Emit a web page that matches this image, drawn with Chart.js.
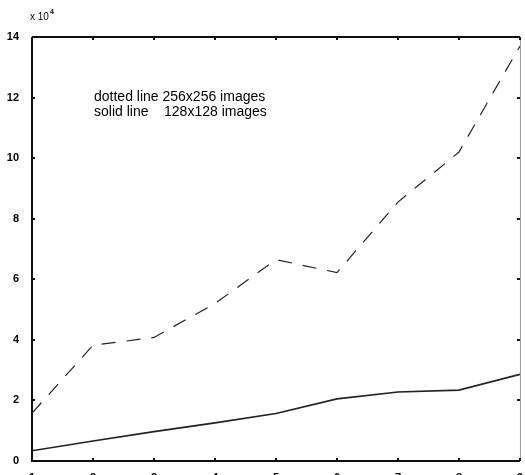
<!DOCTYPE html>
<html>
<head>
<meta charset="utf-8">
<script src="https://cdn.jsdelivr.net/npm/chart.js@4"></script>
<style>
  html, body { margin: 0; padding: 0; background: #fff; }
  #wrap { width: 525px; height: 475px; }
</style>
</head>
<body>
<div id="wrap"><canvas id="myChart"></canvas></div>
<script>
const xValues = [1, 2, 3, 4, 5, 6, 7, 8, 9];
const dotted256 = [1.58, 3.82, 4.08, 5.2, 6.65, 6.22, 8.55, 10.2, 13.7];
const solid128 = [0.34, 0.66, 0.97, 1.26, 1.57, 2.05, 2.28, 2.34, 2.86];
const noteLines = ['dotted line 256x256 images', 'solid line    128x128 images'];

const toPoints = (ys) => xValues.map((x, i) => ({ x: x, y: ys[i] }));

// matlab style box with inward ticks + the text note
const boxPlugin = {
    id: 'box',
    afterDraw(chart) {
        const ctx = chart.ctx;
        const a = chart.chartArea;
        const xs = chart.scales.x;
        const ys = chart.scales.y;
        ctx.save();
        ctx.strokeStyle = '#111';
        ctx.lineWidth = 2;
        ctx.beginPath();
        ctx.moveTo(a.left, a.top);
        ctx.lineTo(a.left, a.bottom);
        ctx.lineTo(a.right, a.bottom);
        ctx.moveTo(a.left, a.top);
        ctx.lineTo(a.right, a.top);
        ctx.stroke();
        ctx.lineWidth = 1;
        ctx.strokeStyle = '#999';
        ctx.beginPath();
        ctx.moveTo(a.right + 0.5, a.top);
        ctx.lineTo(a.right + 0.5, a.bottom);
        ctx.stroke();

        ctx.strokeStyle = '#111';
        ctx.lineWidth = 2;
        ctx.beginPath();
        xs.ticks.forEach(t => {
            const px = Math.round(xs.getPixelForValue(t.value));
            ctx.moveTo(px, a.bottom);
            ctx.lineTo(px, a.bottom - 3);
            ctx.moveTo(px, a.top);
            ctx.lineTo(px, a.top + 3);
        });
        ys.ticks.forEach(t => {
            const py = Math.round(ys.getPixelForValue(t.value));
            ctx.moveTo(a.left, py);
            ctx.lineTo(a.left + 3, py);
            ctx.moveTo(a.right, py);
            ctx.lineTo(a.right - 3, py);
        });
        ctx.stroke();

        ctx.fillStyle = '#000';
        ctx.font = '14px "Liberation Sans", Arial, sans-serif';
        ctx.textBaseline = 'alphabetic';
        ctx.fillText(noteLines[0], 94, 101);
        ctx.fillText(noteLines[1], 94, 116);

        ctx.font = '10px "Liberation Sans", Arial, sans-serif';
        ctx.fillText('x 10', 30, 20);
        ctx.font = 'bold 7px "Liberation Sans", Arial, sans-serif';
        ctx.fillText('4', 50, 14);
        ctx.restore();
    }
};

const data = {
    datasets: [{
        label: 'dotted line 256x256 images',
        data: toPoints(dotted256),
        borderColor: '#222',
        borderWidth: 1.2,
        borderDash: [14, 11],
        pointRadius: 0,
        tension: 0,
    },{
        label: 'solid line 128x128 images',
        data: toPoints(solid128),
        borderColor: '#222',
        borderWidth: 1.6,
        pointRadius: 0,
        tension: 0,
    }]
};

const options = {
    responsive: true,
    maintainAspectRatio: false,
    animation: false,
    layout: {
        padding: { top: 37, right: 1, left: 0, bottom: 0 }
    },
    plugins: {
        legend: { display: false },
        tooltip: { enabled: false }
    },
    scales: {
        x: {
            type: 'linear',
            min: 1,
            max: 9,
            grid: { display: false },
            border: { display: false },
            afterFit(scale) { scale.height = 14; },
            ticks: {
                stepSize: 1,
                padding: 2,
                color: '#000',
                maxRotation: 0,
                font: { size: 11, weight: 'bold', family: '"Liberation Sans", Arial, sans-serif' }
            }
        },
        y: {
            min: 0,
            max: 14,
            grid: { display: false },
            border: { display: false },
            afterFit(scale) { scale.width = 32; },
            ticks: {
                stepSize: 2,
                padding: 5,
                color: '#000',
                font: { size: 11, weight: 'bold', family: '"Liberation Sans", Arial, sans-serif' }
            }
        }
    }
};

const myChart = new Chart(
    document.getElementById('myChart'),
    { type: 'line', data, options, plugins: [boxPlugin] }
);
</script>
</body>
</html>
